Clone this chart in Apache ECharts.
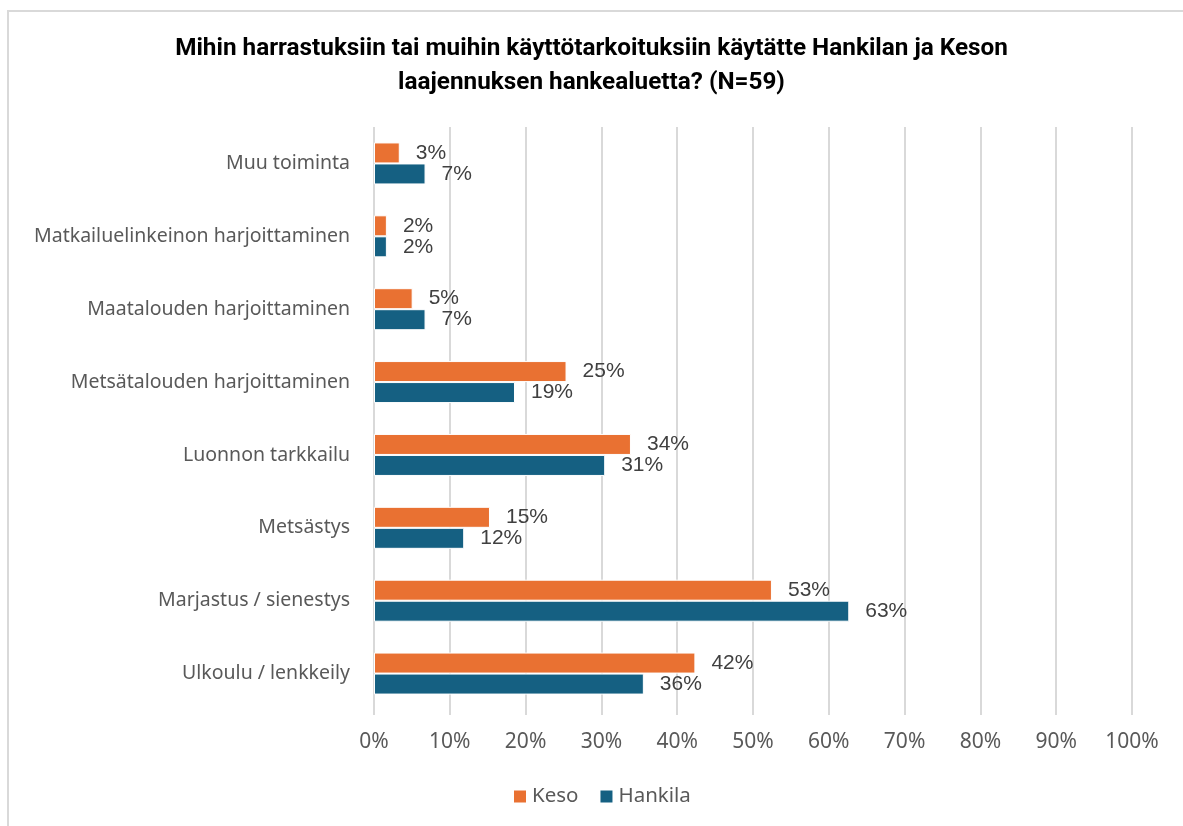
<!DOCTYPE html>
<html>
<head>
<meta charset="utf-8">
<script src="https://cdn.jsdelivr.net/npm/echarts@6/dist/echarts.min.js"></script>
<style>
  html, body { margin: 0; padding: 0; background: #fff; }
  #chart { width: 1183px; height: 826px; }
</style>
</head>
<body>
<div id="chart"></div>
<script>
// kategoriat alhaalta ylös (kuten kuvassa)
const categories = [
  'Ulkoulu / lenkkeily',
  'Marjastus / sienestys',
  'Metsästys',
  'Luonnon tarkkailu',
  'Metsätalouden harjoittaminen',
  'Maatalouden harjoittaminen',
  'Matkailuelinkeinon harjoittaminen',
  'Muu toiminta'
];
// prosentit luettu kuvasta
const kesoValues = [42.4, 52.5, 15.3, 33.9, 25.4, 5.1, 1.7, 3.4];
const hankilaValues = [35.6, 62.7, 11.9, 30.5, 18.6, 6.8, 1.7, 6.8];
const seriesNames = ['Keso', 'Hankila'];

const chart = echarts.init(document.getElementById('chart'));

const labelStyle = {
  show: true,
  position: 'right',
  distance: 16,
  color: '#404040',
  fontSize: 21,
  fontFamily: 'Liberation Sans, Arial, sans-serif',
  formatter: p => Math.round(p.value) + '%'
};

const option = {
  animation: false,
  title: {
    text: 'Mihin harrastuksiin tai muihin käyttötarkoituksiin käytätte Hankilan ja Keson\nlaajennuksen hankealuetta? (N=59)',
    left: 'center',
    top: 27,
    padding: [5, 5, 5, 17],
    textStyle: {
      fontFamily: 'Roboto, sans-serif',
      fontWeight: 'bold',
      fontSize: 24.3,
      lineHeight: 34,
      color: '#000'
    }
  },
  graphic: [{
    type: 'rect',
    shape: { x: 8, y: 11, width: 1200, height: 900 },
    style: { fill: 'none', stroke: '#d9d9d9', lineWidth: 2 },
    silent: true
  }],
  legend: {
    data: seriesNames,
    bottom: 14,
    left: 507,
    itemWidth: 14,
    itemHeight: 14,
    itemGap: 20,
    icon: 'rect',
    textStyle: { fontSize: 20.5, color: '#595959', fontFamily: 'Noto Sans, sans-serif' }
  },
  grid: { left: 374, right: 51, top: 127, bottom: 116 },
  xAxis: {
    type: 'value',
    min: 0,
    max: 100,
    interval: 10,
    axisLabel: {
      formatter: '{value}%',
      fontSize: 21,
      color: '#595959',
      margin: 22,
      fontFamily: 'Noto Sans, sans-serif'
    },
    axisLine: { show: false },
    axisTick: { show: true, length: 5, lineStyle: { color: '#d9d9d9', width: 2 } },
    splitLine: { lineStyle: { color: '#d9d9d9', width: 2 } }
  },
  yAxis: {
    type: 'category',
    data: categories,
    axisLine: { show: false },
    axisTick: { show: false },
    axisLabel: {
      fontSize: 19.5,
      color: '#595959',
      margin: 24,
      fontFamily: 'Noto Sans, sans-serif'
    }
  },
  series: [
    {
      name: 'Keso',
      type: 'bar',
      data: kesoValues,
      barWidth: 21,
      barGap: '0%',
      itemStyle: { color: '#E97132', borderColor: '#fff', borderWidth: 1 },
      label: labelStyle
    },
    {
      name: 'Hankila',
      type: 'bar',
      data: hankilaValues,
      barWidth: 21,
      barGap: '0%',
      itemStyle: { color: '#156082', borderColor: '#fff', borderWidth: 1 },
      label: labelStyle
    }
  ]
};

chart.setOption(option);
window.onresize = function () { chart.resize(); };
</script>
</body>
</html>
